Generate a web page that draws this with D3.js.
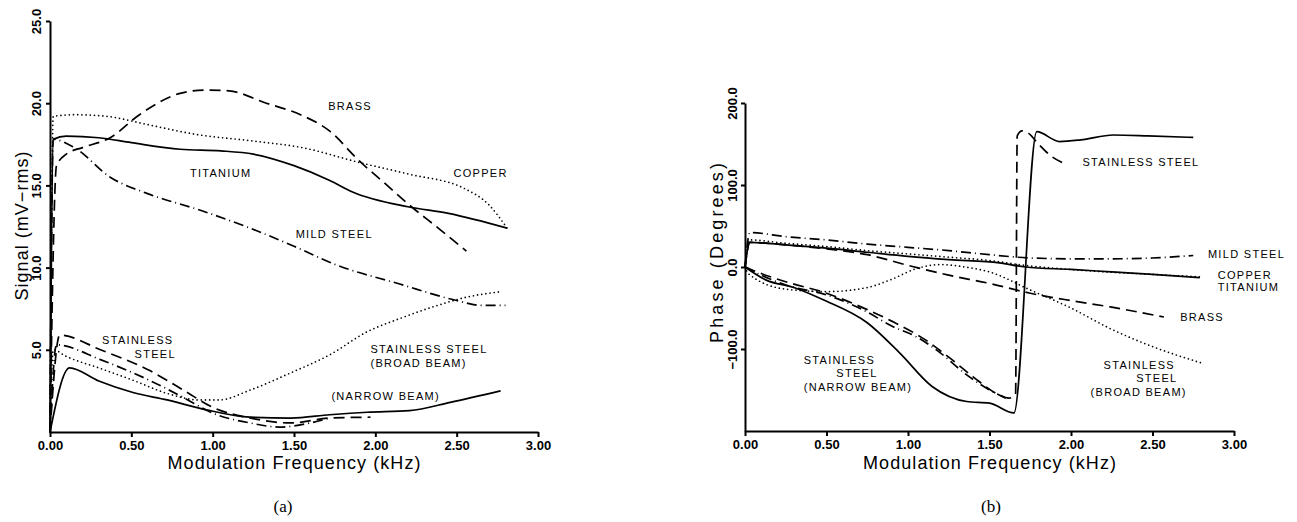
<!DOCTYPE html>
<head>
  <meta charset="utf-8">
  <script src="https://d3js.org/d3.v7.min.js"></script>
  <style>
    body { margin:0; background:#fff; font-family: "Liberation Sans", Arial, sans-serif; }
    .axis path, .axis line { fill:none; stroke:#000; stroke-width:2; }
    .axis text { font-family: "Liberation Sans", Arial, sans-serif; font-size:13px; font-weight:bold; fill:#000; }
    .curve { fill:none; stroke:#000; stroke-width:1.7; }
    .lbl { font-size:11px; letter-spacing:1.3px; fill:#000; }
    .title { font-size:18px; fill:#000; }
    .cap { font-family: "Liberation Serif", "Times New Roman", serif; font-size:17px; fill:#000; }
  </style>
</head>
<body>
<script>
// ---- panel (a): signal, mV-rms ----
var sigCopper   = [[0,0],[0.02,19.2],[0.15,19.3],[0.35,19.2],[0.6,18.7],[0.9,18.1],[1.25,17.7],[1.55,17.3],[1.9,16.4],[2.2,15.7],[2.55,14.8],[2.7,13.8],[2.81,12.4]];
var sigTitanium = [[0,0],[0.02,17.8],[0.1,18.0],[0.3,17.9],[0.5,17.6],[0.8,17.2],[1.05,17.1],[1.25,16.9],[1.5,16.2],[1.72,15.3],[1.86,14.6],[2.2,13.7],[2.45,13.3],[2.81,12.4]];
var sigBrass    = [[0,0],[0.04,16.2],[0.1,16.9],[0.2,17.3],[0.37,17.9],[0.55,19.3],[0.8,20.6],[0.95,20.8],[1.1,20.75],[1.33,20.0],[1.54,19.3],[1.72,18.3],[1.9,16.5],[2.05,15.2],[2.21,13.8],[2.4,12.3],[2.56,11.0]];
var sigMild     = [[0,0],[0.02,17.8],[0.15,17.3],[0.37,15.5],[0.6,14.5],[0.92,13.5],[1.23,12.4],[1.5,11.3],[1.75,10.2],[2.15,9.0],[2.5,8.0],[2.65,7.7],[2.8,7.7]];
var sigSSBroad  = [[0,0],[0.02,5.0],[0.1,4.6],[0.3,3.9],[0.51,3.15],[0.72,2.35],[0.92,1.95],[1.04,1.95],[1.23,2.55],[1.48,3.6],[1.72,4.7],[1.95,6.1],[2.15,6.9],[2.35,7.6],[2.56,8.2],[2.78,8.55]];
var sigSSNarrow = [[0,0],[0.12,3.9],[0.3,3.1],[0.51,2.4],[0.72,1.95],[0.96,1.35],[1.23,0.9],[1.48,0.85],[1.72,1.05],[1.95,1.2],[2.21,1.3],[2.46,1.8],[2.77,2.5]];
var sigSSDash   = [[0,0],[0.06,5.9],[0.31,5.0],[0.61,3.75],[0.82,2.55],[1.0,1.5],[1.23,0.85],[1.48,0.55],[1.72,0.85],[1.97,0.9]];
var sigSSDashDot= [[0,0],[0.04,5.3],[0.31,4.4],[0.61,3.15],[0.82,2.1],[1.0,1.15],[1.23,0.55],[1.41,0.3],[1.6,0.55],[1.72,0.85]];

// ---- panel (b): phase, degrees ----
var phTitanium = [[0,0],[0.03,30],[0.25,27],[0.5,23],[0.75,18],[1.0,13],[1.25,9],[1.56,5],[1.72,0],[2.0,-3],[2.25,-6],[2.5,-9],[2.79,-13]];
var phCopper   = [[0,0],[0.03,33],[0.25,29],[0.5,25],[0.75,20],[1.0,16],[1.25,12],[1.5,8],[1.72,2],[2.0,-3],[2.5,-9],[2.79,-12]];
var phMild     = [[0,0],[0.03,42],[0.25,37],[0.5,33],[0.75,28],[1.0,24],[1.25,20],[1.5,15],[1.75,11],[2.0,10],[2.25,10],[2.5,11],[2.75,14]];
var phBrass    = [[0,0],[0.03,30],[0.25,27],[0.5,22],[0.75,15],[1.0,2],[1.25,-10],[1.5,-20],[1.75,-32],[2.0,-41],[2.25,-49],[2.57,-61]];
var phSSBroad  = [[0,0],[0.02,-8],[0.25,-27],[0.5,-30],[0.75,-25],[0.9,-15],[1.05,-2],[1.2,3],[1.35,0],[1.5,-6],[1.75,-28],[2.0,-50],[2.25,-76],[2.5,-97],[2.8,-117]];
var phSSNarrow = [[0,0],[0.13,-16],[0.3,-25],[0.48,-40],[0.75,-68],[0.95,-105],[1.15,-146],[1.36,-164],[1.5,-166],[1.65,-178],[1.79,165],[1.93,153],[2.06,155],[2.26,161],[2.47,160],[2.75,158]];
var phSSDash   = [[0,0],[0.1,-8],[0.25,-18],[0.5,-32],[0.75,-52],[0.9,-66],[1.1,-88],[1.25,-110],[1.4,-134],[1.55,-155],[1.62,-160],[1.66,-155],[1.67,160],[1.7,166],[1.74,163],[1.8,150],[1.88,135],[1.95,127]];
var phSSDashDot= [[0,0],[0.1,-10],[0.25,-22],[0.5,-34],[0.75,-55],[0.9,-72],[1.05,-85],[1.2,-105],[1.35,-130],[1.5,-150],[1.6,-160]];

var xTicks = [0, 0.5, 1, 1.5, 2, 2.5, 3];
var sigTicks = [5, 10, 15, 20, 25];
var phTicks = [-100, 0, 100, 200];

// line styles
var SOLID = null, DASH = "11,6", DOT = "0,4.2", DASHDOT = "10,4,1,4";

var W = 1297, H = 522;
var svg = d3.select("body").append("svg").attr("width", W).attr("height", H);

function panel(o) {
  var x = d3.scaleLinear().domain([0, 3]).range(o.xr);
  var y = d3.scaleLinear().domain(o.yd).range(o.yr);
  var g = svg.append("g");

  var line = d3.line().x(d => x(d[0])).y(d => y(d[1])).curve(d3.curveMonotoneX);
  o.series.forEach(s => {
    g.append("path").datum(s.data)
      .attr("class", "curve")
      .attr("d", line)
      .attr("stroke-dasharray", s.dash)
      .attr("stroke-linecap", s.dash === DOT ? "round" : "butt")
      .attr("stroke-width", s.dash === DOT ? 2.1 : 1.7);
  });

  g.append("g").attr("class", "axis")
    .attr("transform", "translate(0," + o.yr[0] + ")")
    .call(d3.axisBottom(x).tickValues(xTicks).tickFormat(d3.format(".2f")).tickSize(5).tickSizeOuter(0).tickPadding(4));

  var ya = g.append("g").attr("class", "axis")
    .attr("transform", "translate(" + o.xr[0] + ",0)")
    .call(d3.axisLeft(y).tickValues(o.ticks).tickFormat(d3.format(".1f")).tickSize(4).tickSizeOuter(0));
  ya.selectAll("text")
    .attr("x", 0).attr("dy", 0)
    .attr("text-anchor", "middle")
    .attr("transform", "translate(" + o.tickOff + ",0) rotate(-90)");

  g.append("text").attr("class", "title")
    .attr("x", (o.xr[0] + o.xr[1]) / 2).attr("y", 469)
    .attr("text-anchor", "middle")
    .attr("textLength", 253).attr("lengthAdjust", "spacing")
    .text("Modulation Frequency (kHz)");

  g.append("text").attr("class", "title")
    .attr("text-anchor", "middle")
    .attr("transform", "translate(" + o.ytx + "," + o.yty + ") rotate(-90)")
    .attr("textLength", o.ylen).attr("lengthAdjust", "spacing")
    .text(o.ytitle);

  g.selectAll(".lbl").data(o.labels).enter().append("text")
    .attr("class", "lbl")
    .attr("x", d => x(d[1])).attr("y", d => y(d[2]))
    .text(d => d[0]);

  g.append("text").attr("class", "cap")
    .attr("x", o.capx).attr("y", 512)
    .attr("text-anchor", "middle")
    .text(o.cap);
}

panel({
  xr: [50, 538], yr: [432, 21], yd: [0, 25], ticks: sigTicks, tickOff: -9,
  ytitle: "Signal (mV\u2212rms)", ytx: 28, yty: 226, ylen: 149,
  cap: "(a)", capx: 283,
  series: [
    {data: sigCopper, dash: DOT}, {data: sigTitanium, dash: SOLID},
    {data: sigBrass, dash: DASH}, {data: sigMild, dash: DASHDOT},
    {data: sigSSBroad, dash: DOT}, {data: sigSSNarrow, dash: SOLID},
    {data: sigSSDash, dash: DASH}, {data: sigSSDashDot, dash: DASHDOT}
  ],
  labels: [
    ["BRASS", 1.71, 19.6], ["COPPER", 2.48, 15.5], ["TITANIUM", 0.86, 15.5],
    ["MILD STEEL", 1.51, 11.8], ["STAINLESS", 0.32, 5.35], ["STEEL", 0.52, 4.5],
    ["STAINLESS STEEL", 1.97, 4.8], ["(BROAD BEAM)", 1.97, 3.95], ["(NARROW BEAM)", 1.73, 1.95]
  ]
});

panel({
  xr: [745, 1234], yr: [431, 103], yd: [-200, 200], ticks: phTicks, tickOff: -8,
  ytitle: "Phase (Degrees)", ytx: 723, yty: 253, ylen: 180,
  cap: "(b)", capx: 991,
  series: [
    {data: phCopper, dash: DOT}, {data: phTitanium, dash: SOLID},
    {data: phMild, dash: DASHDOT}, {data: phBrass, dash: DASH},
    {data: phSSBroad, dash: DOT}, {data: phSSNarrow, dash: SOLID},
    {data: phSSDash, dash: DASH}, {data: phSSDashDot, dash: DASHDOT}
  ],
  labels: [
    ["STAINLESS STEEL", 2.07, 123], ["MILD STEEL", 2.84, 11], ["COPPER", 2.9, -15],
    ["TITANIUM", 2.9, -29], ["BRASS", 2.67, -66],
    ["STAINLESS", 2.2, -124], ["STEEL", 2.4, -140], ["(BROAD BEAM)", 2.12, -157],
    ["STAINLESS", 0.36, -118], ["STEEL", 0.56, -134], ["(NARROW BEAM)", 0.36, -151]
  ]
});
</script>
</body>
